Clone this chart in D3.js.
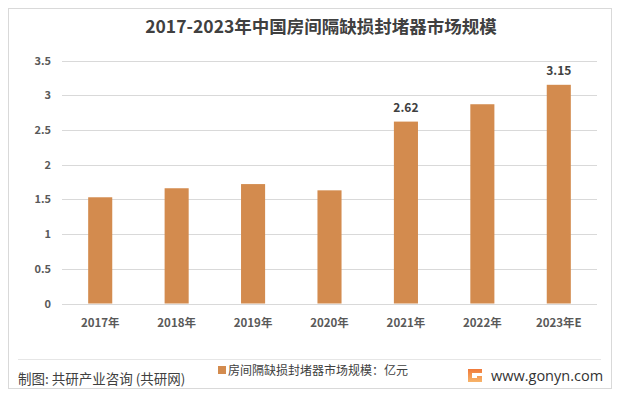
<!DOCTYPE html>
<html>
<head>
<meta charset="utf-8">
<script src="https://cdn.jsdelivr.net/npm/d3@7"></script>
<style>
  html, body { margin: 0; padding: 0; background: #fff; }
  svg { display: block; font-family: "Noto Sans CJK SC", "Noto Sans", sans-serif; }
</style>
</head>
<body>
<svg id="chart" width="618" height="395"></svg>
<script>
const categories = ["2017年", "2018年", "2019年", "2020年", "2021年", "2022年", "2023年E"];
const values = [1.53, 1.66, 1.72, 1.63, 2.62, 2.87, 3.15];
const labeledIndices = [4, 6];
const yTicks = [0, 0.5, 1, 1.5, 2, 2.5, 3, 3.5];
const titleText = "2017-2023年中国房间隔缺损封堵器市场规模";
const legendText = "房间隔缺损封堵器市场规模：亿元";
const sourceText = "制图: 共研产业咨询 (共研网)";
const siteText = "www.gonyn.com";

const svg = d3.select("#chart");
const barColor = "#D38B4E";

// outer frame
svg.append("rect").attr("x", 8.5).attr("y", 8.5).attr("width", 603).attr("height", 380)
  .attr("fill", "#fff").attr("stroke", "#d9d9d9").attr("stroke-width", 1);

// title
svg.append("text").attr("x", 321).attr("y", 33).attr("text-anchor", "middle")
  .attr("font-size", 17.5).attr("font-weight", "bold").attr("fill", "#404040")
  .text(titleText);

const x = d3.scaleBand().domain(categories).range([62, 597]).paddingInner(0.685).paddingOuter(0.3425);
const y = d3.scaleLinear().domain([0, 3.5]).range([303.5, 60.5]);

// gridlines
svg.append("g").selectAll("line").data(yTicks.filter(d => d > 0)).join("line")
  .attr("x1", 62).attr("x2", 597)
  .attr("y1", d => Math.round(y(d)) + 0.5).attr("y2", d => Math.round(y(d)) + 0.5)
  .attr("stroke", "#d9d9d9").attr("stroke-width", 1);

// y axis labels
const yAxis = d3.axisLeft(y).tickValues(yTicks).tickSize(0).tickPadding(0)
  .tickFormat(d => String(d));
const yg = svg.append("g").attr("transform", "translate(51,0)").call(yAxis);
yg.select(".domain").remove();
yg.selectAll("text").attr("font-size", 11).attr("font-weight", "bold").attr("fill", "#595959")
  .attr("font-family", "\"Noto Sans CJK SC\", sans-serif");

// bars
svg.append("g").selectAll("rect").data(values).join("rect")
  .attr("x", (d, i) => x(categories[i]))
  .attr("width", x.bandwidth())
  .attr("y", d => y(d))
  .attr("height", d => y(0) - y(d))
  .attr("fill", barColor);

// x axis
const xAxis = d3.axisBottom(x).tickSize(0).tickPadding(14);
const xg = svg.append("g").attr("transform", `translate(0,${Math.round(y(0)) + 0.5})`).call(xAxis);
xg.select(".domain").attr("stroke", "#d9d9d9").attr("d", "M62,0H597");
xg.selectAll("text").attr("font-size", 11.5).attr("font-weight", "bold").attr("fill", "#595959")
  .attr("font-family", "\"Noto Sans CJK SC\", sans-serif");

// value labels
svg.append("g").selectAll("text").data(labeledIndices).join("text")
  .attr("x", i => x(categories[i]) + x.bandwidth() / 2)
  .attr("y", i => y(values[i]) - 10)
  .attr("text-anchor", "middle").attr("font-size", 12).attr("font-weight", "bold")
  .attr("fill", "#404040")
  .text(i => values[i].toFixed(2));

// separator line
svg.append("line").attr("x1", 18).attr("x2", 601).attr("y1", 359.5).attr("y2", 359.5)
  .attr("stroke", "#e6e6e6").attr("stroke-width", 1);

// legend
svg.append("rect").attr("x", 218).attr("y", 366).attr("width", 8).attr("height", 8).attr("fill", barColor);
svg.append("text").attr("x", 228).attr("y", 375).attr("font-size", 12).attr("fill", "#404040")
  .text(legendText);

// source
svg.append("text").attr("x", 18).attr("y", 384).attr("font-size", 13.5).attr("fill", "#404040")
  .text(sourceText);

// logo
const logo = svg.append("g").attr("transform", "translate(468,369)");
const lg = svg.append("defs").append("linearGradient").attr("id", "lg").attr("x1", 0).attr("y1", 0).attr("x2", 0).attr("y2", 1);
lg.append("stop").attr("offset", "0%").attr("stop-color", "#f07a3a");
lg.append("stop").attr("offset", "100%").attr("stop-color", "#f7b46a");
logo.append("path")
  .attr("d", "M0,0H14V4H4V9H9V7H14V13H0Z")
  .attr("fill", "url(#lg)");
svg.append("text").attr("x", 491).attr("y", 381).attr("font-size", 14.5).attr("fill", "#333")
  .attr("font-family", "\"Open Sans\", \"Noto Sans\", sans-serif")
  .text(siteText);
</script>
</body>
</html>
